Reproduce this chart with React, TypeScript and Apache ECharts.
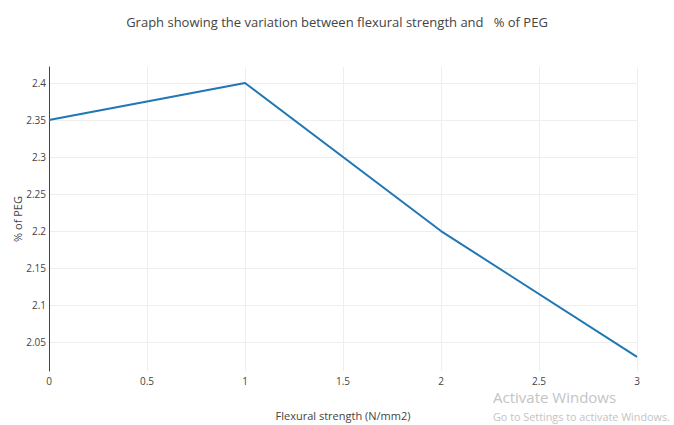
import React, { useEffect, useRef } from "react";
import * as echarts from "echarts";

const xValues = [0, 1, 2, 3];
const yValues = [2.35, 2.4, 2.2, 2.03];
const yTicks = [2.05, 2.1, 2.15, 2.2, 2.25, 2.3, 2.35, 2.4];
const titleText = "Graph showing the variation between flexural strength and   % of PEG";
const xName = "Flexural strength (N/mm2)";
const yName = "% of PEG";

export default function App() {
  const ref = useRef<HTMLDivElement>(null);
  useEffect(() => {
    if (!ref.current) return;
    const chart = echarts.init(ref.current, null, { renderer: "svg" });
    const font = "'Open Sans', 'Noto Sans', sans-serif";
    chart.setOption({
      animation: false,
      backgroundColor: "#ffffff",
      textStyle: { fontFamily: font },
      title: {
        text: titleText,
        left: "center",
        top: 10,
        textStyle: { fontFamily: font, fontSize: 13, fontWeight: "normal", color: "#444" },
      },
      grid: { left: 49, right: 37, top: 67, bottom: 54, containLabel: false, outerBoundsMode: "none" },
      xAxis: {
        type: "value",
        min: 0,
        max: 3,
        interval: 0.5,
        name: xName,
        nameLocation: "middle",
        nameGap: 39,
        nameTextStyle: { fontFamily: font, fontSize: 11, color: "#444" },
        axisLine: { show: false },
        axisTick: { show: false },
        axisLabel: { fontFamily: font, fontSize: 10, color: "#444", margin: 5 },
        splitLine: { show: true, lineStyle: { color: "#eeeeee", width: 1 } },
      },
      yAxis: {
        type: "value",
        min: 2.011,
        max: 2.4216,
        name: yName,
        nameLocation: "middle",
        nameGap: 26,
        nameMoveOverlap: false,
        nameTextStyle: { fontFamily: font, fontSize: 11, color: "#444" },
        axisLine: { show: true, onZero: false, lineStyle: { color: "#444", width: 1 } },
        axisTick: { show: false, customValues: yTicks },
        axisLabel: {
          fontFamily: font,
          fontSize: 10,
          color: "#444",
          margin: 3,
          customValues: yTicks,
          formatter: (v: number) => String(Number(v.toFixed(2))),
        },
        splitLine: { show: false },
      },
      series: [
        {
          type: "line",
          data: xValues.map((x, i) => [x, yValues[i]]),
          showSymbol: false,
          lineStyle: { color: "#1f77b4", width: 2 },
          itemStyle: { color: "#1f77b4" },
          markLine: {
            silent: true,
            symbol: ["none", "none"],
            label: { show: false },
            lineStyle: { color: "#eeeeee", width: 1, type: "solid" },
            z: 0,
            data: yTicks.map((t) => ({ yAxis: t })),
          },
        },
      ],
      graphic: [
        {
          type: "text",
          left: 493,
          top: 389,
          style: { text: "Activate Windows", fontFamily: font, fontSize: 15, fill: "#c4c4c4" },
        },
        {
          type: "text",
          left: 493,
          top: 411,
          style: { text: "Go to Settings to activate Windows.", fontFamily: font, fontSize: 10.8, fill: "#c4c4c4" },
        },
      ],
    });
    return () => chart.dispose();
  }, []);
  return (
    <div
      ref={ref}
      style={{ position: "fixed", left: 0, top: 0, width: 674, height: 425 }}
    />
  );
}
